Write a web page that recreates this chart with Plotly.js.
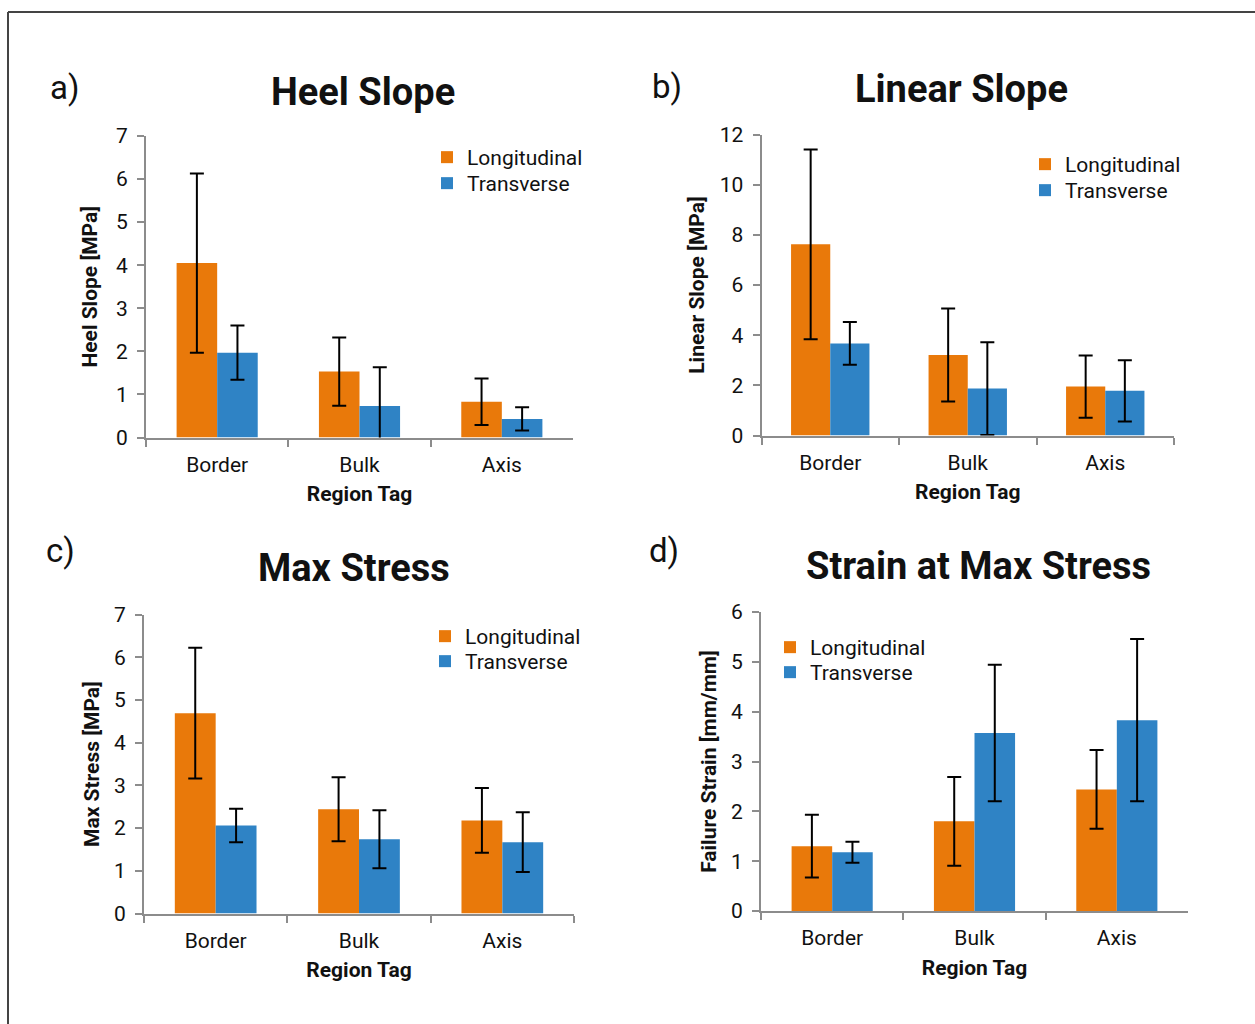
<!DOCTYPE html>
<html>
<head>
<meta charset="utf-8">
<script src="https://cdn.plot.ly/plotly-3.0.1.min.js"></script>
<style>html,body{margin:0;padding:0;background:#fff;}#chart{width:1255px;height:1024px;}</style>
</head>
<body>
<div id="chart"></div>
<script>
const categories = ["Border", "Bulk", "Axis"];
const seriesNames = ["Longitudinal", "Transverse"];

// a) Heel Slope [MPa]
const heelLong = [4.05, 1.53, 0.83];
const heelLongErr = [2.08, 0.79, 0.54];
const heelTrans = [1.97, 0.73, 0.43];
const heelTransErr = [0.63, 0.90, 0.27];

// b) Linear Slope [MPa]
const linLong = [7.62, 3.21, 1.95];
const linLongErr = [3.78, 1.85, 1.24];
const linTrans = [3.67, 1.87, 1.78];
const linTransErr = [0.85, 1.85, 1.22];

// c) Max Stress [MPa]
const maxLong = [4.69, 2.44, 2.18];
const maxLongErr = [1.53, 0.75, 0.76];
const maxTrans = [2.06, 1.74, 1.67];
const maxTransErr = [0.39, 0.68, 0.70];

// d) Strain at Max Stress [mm/mm]
const strLong = [1.30, 1.80, 2.44];
const strLongErr = [0.63, 0.89, 0.79];
const strTrans = [1.18, 3.57, 3.83];
const strTransErr = [0.21, 1.37, 1.63];

const panelTitles = ["Heel Slope", "Linear Slope", "Max Stress", "Strain at Max Stress"];
const panelLetters = ["a)", "b)", "c)", "d)"];
const yTitles = ["Heel Slope [MPa]", "Linear Slope [MPa]", "Max Stress [MPa]", "Failure Strain [mm/mm]"];
const xTitle = "Region Tag";

const ORANGE = "#E9790A";
const BLUE = "#2F83C5";
const AXC = "#8c8c8c";
const FONT = "Roboto, 'Noto Sans', sans-serif";
const W = 1255, H = 1024;
const px = v => v / W;
const py = v => 1 - v / H;

const panels = [
  {long: heelLong, le: heelLongErr, trans: heelTrans, te: heelTransErr, x0: 146, x1: 573, y0: 437.5, y1: 136, range: [0, 7], dtick: 1,
   legX: 427, legY: [137, 163], title: [363, 92], letter: [64, 87], ystand: 13},
  {long: linLong, le: linLongErr, trans: linTrans, te: linTransErr, x0: 761.5, x1: 1174, y0: 435.5, y1: 134.5, range: [0, 12], dtick: 2,
   legX: 1025, legY: [144, 170], title: [961, 89], letter: [667, 86], ystand: 9},
  {long: maxLong, le: maxLongErr, trans: maxTrans, te: maxTransErr, x0: 144, x1: 574, y0: 913.5, y1: 614.5, range: [0, 7], dtick: 1,
   legX: 425, legY: [616, 641], title: [354, 568], letter: [60, 550], ystand: 9},
  {long: strLong, le: strLongErr, trans: strTrans, te: strTransErr, x0: 761, x1: 1188, y0: 911, y1: 612, range: [0, 6], dtick: 1,
   legX: 770, legY: [627, 652], title: [978, 566], letter: [664, 550], ystand: 9}
];

const data = [];
const layout = {
  width: W, height: H,
  margin: {l: 0, r: 0, t: 0, b: 0},
  paper_bgcolor: "#ffffff",
  plot_bgcolor: "rgba(0,0,0,0)",
  font: {family: FONT, size: 21, color: "#111"},
  barmode: "group",
  bargap: 0.43,
  bargroupgap: 0,
  showlegend: true,
  annotations: [],
  shapes: [
    {type: "line", xref: "paper", yref: "paper", x0: px(8), x1: px(1260), y0: py(12), y1: py(12), line: {color: "#444", width: 2}},
    {type: "line", xref: "paper", yref: "paper", x0: px(8), x1: px(8), y0: py(12), y1: py(1030), line: {color: "#444", width: 2}}
  ]
};

let legCount = 0;
function nextLegend(x, yTop) {
  legCount += 1;
  const key = legCount === 1 ? "legend" : "legend" + legCount;
  layout[key] = {
    x: px(x), y: py(yTop), xanchor: "left", yanchor: "top",
    bgcolor: "rgba(0,0,0,0)", borderwidth: 0,
    font: {family: FONT, size: 21, color: "#111"},
    itemclick: false, itemdoubleclick: false
  };
  return key;
}

panels.forEach((p, i) => {
  const n = i + 1;
  const xa = n === 1 ? "x" : "x" + n;
  const ya = n === 1 ? "y" : "y" + n;
  const errStyle = {type: "data", visible: true, color: "#000", thickness: 2, width: 7};
  data.push({
    type: "bar", name: seriesNames[0], x: categories, y: p.long, xaxis: xa, yaxis: ya,
    legend: nextLegend(p.legX, p.legY[0]),
    marker: {color: ORANGE, line: {width: 0}},
    error_y: Object.assign({array: p.le}, errStyle), hoverinfo: "skip"
  });
  data.push({
    type: "bar", name: seriesNames[1], x: categories, y: p.trans, xaxis: xa, yaxis: ya,
    legend: nextLegend(p.legX, p.legY[1]),
    marker: {color: BLUE, line: {width: 0}},
    error_y: Object.assign({array: p.te}, errStyle), hoverinfo: "skip"
  });
  const xKey = n === 1 ? "xaxis" : "xaxis" + n;
  const yKey = n === 1 ? "yaxis" : "yaxis" + n;
  layout[xKey] = {
    domain: [px(p.x0), px(p.x1)], anchor: ya,
    type: "category",
    showline: true, linecolor: AXC, linewidth: 2,
    ticks: "outside", tickson: "boundaries", ticklen: 7, tickcolor: AXC, tickwidth: 2,
    ticklabelstandoff: 7,
    showgrid: false, zeroline: false,
    tickfont: {family: FONT, size: 21, color: "#111"},
    title: {text: xTitle, font: {family: FONT, size: 21, weight: "bold", color: "#111"}, standoff: 11},
    fixedrange: true
  };
  layout[yKey] = {
    domain: [py(p.y0), py(p.y1)], anchor: xa,
    range: p.range, dtick: p.dtick, tick0: 0,
    showline: true, linecolor: AXC, linewidth: 2,
    ticks: "outside", ticklen: 7, tickcolor: AXC, tickwidth: 2,
    ticklabelstandoff: 5,
    showgrid: false, zeroline: false,
    tickfont: {family: FONT, size: 21, color: "#111"},
    title: {text: yTitles[i], font: {family: FONT, size: 21, weight: "bold", color: "#111"}, standoff: p.ystand},
    fixedrange: true
  };
  layout.annotations.push({
    xref: "paper", yref: "paper", x: px(p.title[0]), y: py(p.title[1]),
    xanchor: "center", yanchor: "middle", showarrow: false,
    text: panelTitles[i], font: {family: FONT, size: 38, weight: "bold", color: "#111"}
  });
  layout.annotations.push({
    xref: "paper", yref: "paper", x: px(p.letter[0]), y: py(p.letter[1]),
    xanchor: "center", yanchor: "middle", showarrow: false,
    text: panelLetters[i], font: {family: FONT, size: 33, color: "#111"}
  });
});

Plotly.newPlot("chart", data, layout, {displayModeBar: false, staticPlot: true});
</script>
</body>
</html>
